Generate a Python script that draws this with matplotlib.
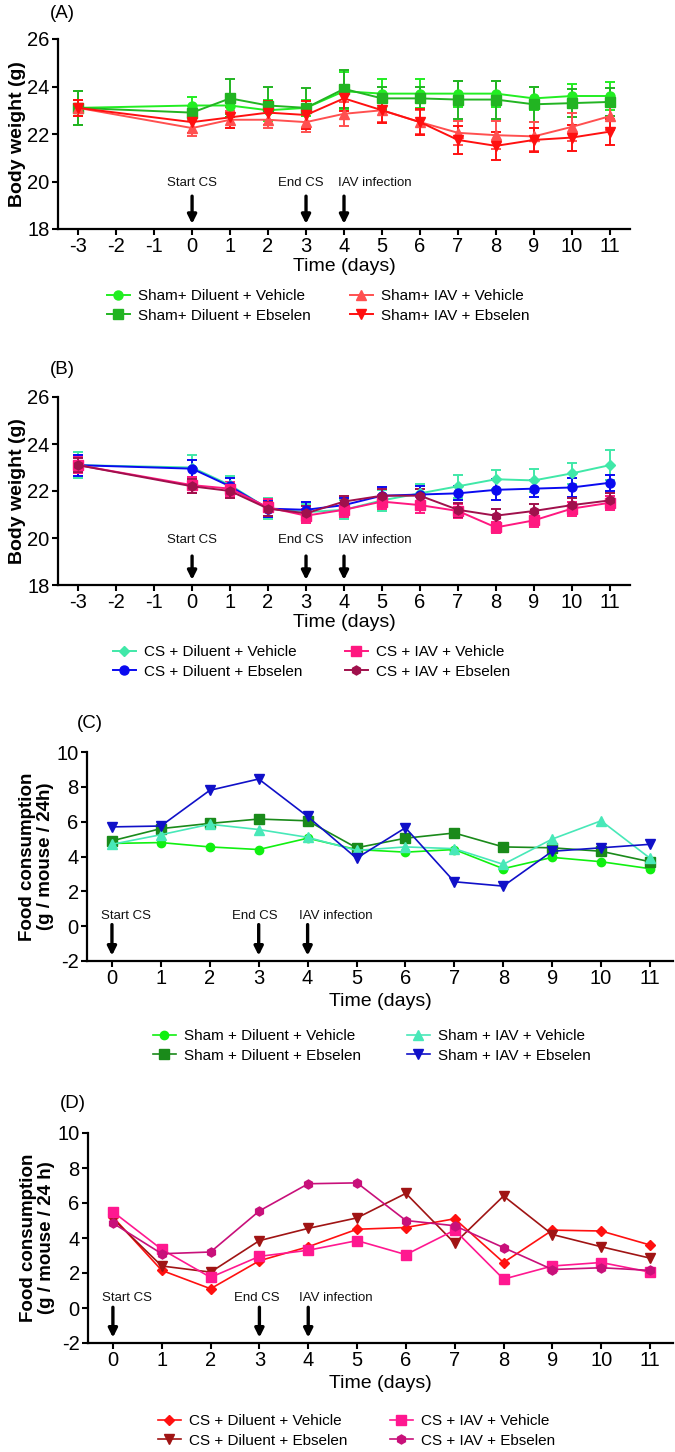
import matplotlib; matplotlib.use('Agg')
import matplotlib.pyplot as plt
import numpy as np

plt.rcParams['font.family'] = ['Liberation Sans', 'DejaVu Sans']
plt.rcParams['axes.unicode_minus'] = False

# ---- data ----
days_bw = [-3, 0, 1, 2, 3, 4, 5, 6, 7, 8, 9, 10, 11]
days_fc = [0, 1, 2, 3, 4, 5, 6, 7, 8, 9, 10, 11]

# (A) body weight, sham groups
a_dil_veh = [23.1, 23.2, 23.2, 23.0, 23.1, 23.8, 23.7, 23.7, 23.7, 23.7, 23.5, 23.6, 23.6]
a_dil_ebs = [23.1, 22.9, 23.5, 23.2, 23.1, 23.9, 23.5, 23.5, 23.45, 23.45, 23.25, 23.3, 23.35]
a_iav_veh = [23.1, 22.25, 22.6, 22.6, 22.5, 22.85, 23.0, 22.5, 22.05, 21.95, 21.9, 22.3, 22.75]
a_iav_ebs = [23.1, 22.5, 22.7, 22.9, 22.8, 23.5, 23.0, 22.5, 21.75, 21.5, 21.75, 21.85, 22.1]
a_err_dil_veh = [0.7, 0.35, 0.35, 0.45, 0.35, 0.8, 0.6, 0.6, 0.55, 0.55, 0.5, 0.5, 0.6]
a_err_dil_ebs = [0.7, 0.3, 0.8, 0.8, 0.85, 0.8, 0.5, 0.5, 0.8, 0.8, 0.75, 0.6, 0.6]
a_err_iav_veh = [0.35, 0.35, 0.35, 0.35, 0.4, 0.5, 0.5, 0.5, 0.5, 0.6, 0.6, 0.6, 0.6]
a_err_iav_ebs = [0.35, 0.45, 0.45, 0.5, 0.6, 0.55, 0.55, 0.55, 0.6, 0.6, 0.5, 0.55, 0.55]

# (B) body weight, CS groups
b_dil_veh = [23.1, 23.0, 22.25, 21.25, 21.1, 21.2, 21.6, 21.9, 22.2, 22.5, 22.45, 22.75, 23.1]
b_dil_ebs = [23.1, 22.95, 22.2, 21.25, 21.2, 21.4, 21.8, 21.85, 21.9, 22.05, 22.1, 22.15, 22.35]
b_iav_veh = [23.1, 22.25, 22.1, 21.3, 20.95, 21.2, 21.55, 21.4, 21.15, 20.45, 20.75, 21.25, 21.5]
b_iav_ebs = [23.1, 22.2, 22.0, 21.25, 21.05, 21.55, 21.8, 21.8, 21.2, 20.95, 21.15, 21.4, 21.6]
b_err_dil_veh = [0.55, 0.55, 0.4, 0.45, 0.35, 0.4, 0.45, 0.4, 0.5, 0.4, 0.5, 0.45, 0.65]
b_err_dil_ebs = [0.45, 0.35, 0.35, 0.35, 0.35, 0.3, 0.35, 0.35, 0.3, 0.45, 0.35, 0.4, 0.35]
b_err_iav_veh = [0.35, 0.35, 0.3, 0.35, 0.3, 0.3, 0.3, 0.35, 0.3, 0.25, 0.3, 0.3, 0.3]
b_err_iav_ebs = [0.3, 0.3, 0.3, 0.3, 0.3, 0.25, 0.3, 0.3, 0.3, 0.3, 0.3, 0.3, 0.3]

# (C) food consumption, sham groups
c_dil_veh = [4.75, 4.8, 4.55, 4.4, 5.05, 4.4, 4.25, 4.4, 3.3, 3.95, 3.7, 3.3]
c_dil_ebs = [4.9, 5.6, 5.9, 6.15, 6.05, 4.5, 5.05, 5.35, 4.55, 4.5, 4.3, 3.7]
c_iav_veh = [4.7, 5.25, 5.85, 5.55, 5.1, 4.35, 4.55, 4.45, 3.55, 5.0, 6.05, 3.9]
c_iav_ebs = [5.7, 5.75, 7.8, 8.45, 6.3, 3.9, 5.65, 2.55, 2.3, 4.3, 4.5, 4.7]

# (D) food consumption, CS groups
d_dil_veh = [5.2, 2.15, 1.1, 2.7, 3.5, 4.5, 4.6, 5.1, 2.6, 4.45, 4.4, 3.6]
d_dil_ebs = [5.1, 2.4, 2.05, 3.85, 4.55, 5.15, 6.55, 3.7, 6.4, 4.2, 3.5, 2.85]
d_iav_veh = [5.5, 3.35, 1.75, 2.95, 3.3, 3.85, 3.05, 4.45, 1.65, 2.4, 2.6, 2.05]
d_iav_ebs = [4.85, 3.1, 3.2, 5.55, 7.1, 7.15, 5.0, 4.7, 3.45, 2.2, 2.3, 2.15]

W, H = 675, 1452
fig = plt.figure(figsize=(W/100, H/100), dpi=100)

def fx(px): return px / W
def fy(py): return 1 - py / H

def make_ax(l, r, t, b):
    ax = fig.add_axes([fx(l), fy(b), (r - l) / W, (b - t) / H])
    for s in ['top', 'right']:
        ax.spines[s].set_visible(False)
    for s in ['left', 'bottom']:
        ax.spines[s].set_linewidth(1.6)
    ax.tick_params(direction='out', length=4, width=1.5, pad=2, labelsize=14.5)
    return ax

def arrows(ax, y_text, y0, y1, texts):
    for (x, lab, dx, ha) in texts:
        ax.annotate('', xy=(x, y1), xytext=(x, y0),
                    arrowprops=dict(arrowstyle='-|>', lw=2.4, color='black', mutation_scale=13))
        ax.text(x + dx, y_text, lab, ha=ha, va='center', fontsize=9.5, color='#111111')

def leg(handles, labels, x, y):
    fig.legend(handles, labels, loc='center left', bbox_to_anchor=(fx(x), fy(y)), frameon=False,
               borderpad=0, borderaxespad=0, handlelength=1.5, handletextpad=0.5, labelspacing=0.35,
               fontsize=11)

# ---------------- (A) ----------------
axA = make_ax(58, 630, 39, 229)
colA = ['#22EE22', '#22B422', '#FF5050', '#FF1010']
hA = []
for y, e, c, m in [(a_dil_veh, a_err_dil_veh, colA[0], 'o'), (a_dil_ebs, a_err_dil_ebs, colA[1], 's'),
                   (a_iav_veh, a_err_iav_veh, colA[2], '^'), (a_iav_ebs, a_err_iav_ebs, colA[3], 'v')]:
    eb = axA.errorbar(days_bw, y, yerr=e, color=c, marker=m, ms=6.5, lw=1.4, elinewidth=1.4,
                      capsize=3.5, capthick=1.4)
    hA.append(eb[0])
axA.set_xlim(-3.53, 11.53); axA.set_ylim(18, 26)
axA.set_xticks(range(-3, 12)); axA.set_yticks([18, 20, 22, 24, 26])
axA.set_ylabel('Body weight (g)', fontsize=14, fontweight='bold', labelpad=1)
axA.set_xlabel('Time (days)', fontsize=14, labelpad=1)
arrows(axA, 19.95, 19.5, 18.1, [(0, 'Start CS', 0, 'center'), (3, 'End CS', -0.15, 'center'),
                                (4, 'IAV infection', -0.15, 'left')])
fig.text(fx(50), fy(13), '(A)', fontsize=13.5, va='center', ha='left')
leg(hA[:2], ['Sham+ Diluent + Vehicle', 'Sham+ Diluent + Ebselen'], 107, 306)
leg(hA[2:], ['Sham+ IAV + Vehicle', 'Sham+ IAV + Ebselen'], 350, 306)

# ---------------- (B) ----------------
axB = make_ax(58, 630, 397, 585)
colB = ['#40E8A8', '#0A0AF0', '#FF1880', '#A0104C']
hB = []
for y, e, c, m in [(b_dil_veh, b_err_dil_veh, colB[0], 'D'), (b_dil_ebs, b_err_dil_ebs, colB[1], 'o'),
                   (b_iav_veh, b_err_iav_veh, colB[2], 's'), (b_iav_ebs, b_err_iav_ebs, colB[3], 'h')]:
    eb = axB.errorbar(days_bw, y, yerr=e, color=c, marker=m, ms=6.5 if m != 'D' else 5.5, lw=1.4,
                      elinewidth=1.4, capsize=3.5, capthick=1.4)
    hB.append(eb[0])
axB.set_xlim(-3.53, 11.53); axB.set_ylim(18, 26)
axB.set_xticks(range(-3, 12)); axB.set_yticks([18, 20, 22, 24, 26])
axB.set_ylabel('Body weight (g)', fontsize=14, fontweight='bold', labelpad=1)
axB.set_xlabel('Time (days)', fontsize=14, labelpad=1)
arrows(axB, 19.9, 19.35, 18.1, [(0, 'Start CS', 0, 'center'), (3, 'End CS', -0.15, 'center'),
                                (4, 'IAV infection', -0.15, 'left')])
fig.text(fx(50), fy(369), '(B)', fontsize=13.5, va='center', ha='left')
leg(hB[:2], ['CS + Diluent + Vehicle', 'CS + Diluent + Ebselen'], 113, 662)
leg(hB[2:], ['CS + IAV + Vehicle', 'CS + IAV + Ebselen'], 345, 662)

# ---------------- (C) ----------------
axC = make_ax(87, 673, 752, 961)
colC = ['#10F010', '#1A8A1A', '#48E8B8', '#1010C8']
hC = []
for y, c, m, ms in [(c_dil_veh, colC[0], 'o', 6), (c_dil_ebs, colC[1], 's', 6.5),
                    (c_iav_veh, colC[2], '^', 6.5), (c_iav_ebs, colC[3], 'v', 6.5)]:
    hC.append(axC.plot(days_fc, y, color=c, marker=m, ms=ms, lw=1.2)[0])
axC.set_xlim(-0.51, 11.47); axC.set_ylim(-2, 10)
axC.set_xticks(range(0, 12)); axC.set_yticks(range(-2, 11, 2))
axC.set_ylabel('Food consumption\n(g / mouse / 24h)', fontsize=13.5, fontweight='bold', labelpad=2,
               linespacing=1.05)
axC.set_xlabel('Time (days)', fontsize=14, labelpad=3)
arrows(axC, 0.57, 0.25, -1.85, [(0, 'Start CS', 0.28, 'center'), (3, 'End CS', -0.08, 'center'),
                                (4, 'IAV infection', -0.18, 'left')])
fig.text(fx(77), fy(723), '(C)', fontsize=13.5, va='center', ha='left')
leg(hC[:2], ['Sham + Diluent + Vehicle', 'Sham + Diluent + Ebselen'], 153, 1046)
leg(hC[2:], ['Sham + IAV + Vehicle', 'Sham + IAV + Ebselen'], 407, 1046)

# ---------------- (D) ----------------
axD = make_ax(88, 673, 1133, 1343)
colD = ['#FF1010', '#A01414', '#FF1890', '#C8107A']
hD = []
for y, c, m, ms in [(d_dil_veh, colD[0], 'D', 5.5), (d_dil_ebs, colD[1], 'v', 6.5),
                    (d_iav_veh, colD[2], 's', 7), (d_iav_ebs, colD[3], 'h', 6.5)]:
    hD.append(axD.plot(days_fc, y, color=c, marker=m, ms=ms, lw=1.2)[0])
axD.set_xlim(-0.51, 11.47); axD.set_ylim(-2, 10)
axD.set_xticks(range(0, 12)); axD.set_yticks(range(-2, 11, 2))
axD.set_ylabel('Food consumption\n(g / mouse / 24 h)', fontsize=13.5, fontweight='bold', labelpad=2,
               linespacing=1.05)
axD.set_xlabel('Time (days)', fontsize=14, labelpad=3)
arrows(axD, 0.55, 0.2, -1.85, [(0, 'Start CS', 0.28, 'center'), (3, 'End CS', -0.05, 'center'),
                               (4, 'IAV infection', -0.18, 'left')])
fig.text(fx(60), fy(1103), '(D)', fontsize=13.5, va='center', ha='left')
leg(hD[:2], ['CS + Diluent + Vehicle', 'CS + Diluent + Ebselen'], 158, 1431)
leg(hD[2:], ['CS + IAV + Vehicle', 'CS + IAV + Ebselen'], 390, 1431)

fig.savefig('out.png', dpi=100, facecolor='white')
